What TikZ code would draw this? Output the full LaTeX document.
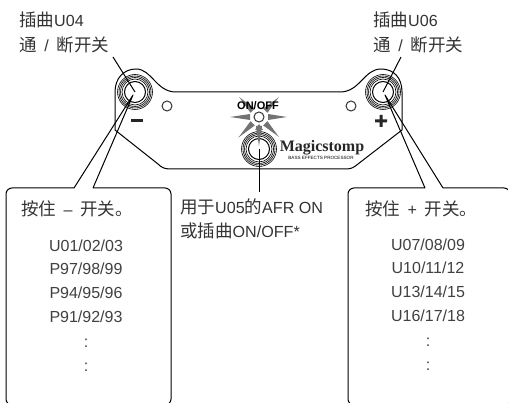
\documentclass[tikz,border=0pt]{standalone}
\usepackage{fontspec}
\usetikzlibrary{calc}
\setmainfont{Liberation Sans}
\newfontfamily\cjk{Noto Sans CJK SC}
\newfontfamily\lat[Scale=0.92]{Liberation Sans}
\newfontfamily\logofont{Liberation Serif}

\tikzset{
  body/.style={draw=black, line width=1pt, line join=round},
  lead/.style={draw=black, line width=1pt},
  ring/.style={draw=black, line width=.6pt, fill=none},
  led/.style={circle, draw=black!80, line width=1pt, minimum size=10pt, inner sep=0pt},
  label/.style={anchor=west, inner sep=0pt, text=black!80, font=\cjk\fontsize{17.5}{20}\selectfont},
  prog/.style={inner sep=0pt, text=black!75, font=\fontsize{16}{18}\selectfont},
  ray/.style={fill=black!55, draw=none},
}

\begin{document}
\begin{tikzpicture}[x=1pt, y=-1pt]
        \useasboundingbox (0,0) rectangle (508,403);
        \clip (0,0) rectangle (508,403);
        % pedal outline
        \draw[body] (170,169) -- (346,169)
          .. controls (352,169) and (354,167) .. (358,164) -- (402,130) -- (402,92)
          .. controls (402,78) and (394,69) .. (381,69)
          .. controls (364,69) and (360,92) .. (340,92) -- (176,92)
          .. controls (156,92) and (152,69) .. (136,69)
          .. controls (124,69) and (115,78) .. (115,92) -- (115,130)
          -- (158,164) .. controls (161,167) and (164,169) .. (170,169) -- cycle;
        % footswitches
        \coordinate (swL) at (135,92);
        \coordinate (swR) at (383,92);
        \coordinate (swC) at (259,149);
        \foreach \sw in {swL,swR,swC} {
          \fill[white] (\sw) circle (18);
          \draw[ring] (\sw) circle (17.5) (\sw) circle (16) (\sw) circle (14.5) (\sw) circle (13);
          \draw[ring, line width=1pt] (\sw) circle (10.5);
        }
        % lamps
        \node[led] (ledL) at (167,106) {};
        \node[led] (ledR) at (351,106) {};
        \node[led] (ledC) at (259,117) {};
        % rays
        \foreach \ang/\len in {0/28,45/28,135/28,180/29,225/29,270/29,315/28} {
          \fill[ray, rotate around={\ang:(ledC)}] ($(ledC)+(9,-3)$) -- ($(ledC)+(\len,0)$) -- ($(ledC)+(9,3)$) -- cycle;
        }
        \fill[ray] (255,130) -- (259,124) -- (263,130) -- cycle;
        % signs
        \node[inner sep=0pt, font=\bfseries\fontsize{11}{11}\selectfont] (onoff) at (258,105.5) {ON/OFF};
        \fill[black!85] (131,119) rectangle (143,122);
        \fill[black!85] (375,119.5) rectangle (387,122.5) (379.5,115) rectangle (382.5,127);
        \node[inner sep=0pt, text=black!85, font=\logofont\bfseries\fontsize{16}{16}\selectfont] (logo) at (322,147.5) {Magicstomp};
        \node[inner sep=0pt, font=\fontsize{4.6}{5}\selectfont] (logosub) at (321,158) {BASS EFFECTS PROCESSOR};
        % top labels
        \node[label] (labL) at (19,20) {插曲{\lat U04}};
        \node[label] (labLb) at (19,45) {通\hspace{7.7pt}{\lat /}\hspace{7.7pt}断开关};
        \node[label] (labR) at (373,20) {插曲{\lat U06}};
        \node[label] (labRb) at (373,45) {通\hspace{7.7pt}{\lat /}\hspace{7.7pt}断开关};
        \coordinate (leadL) at (113,57);
        \coordinate (leadR) at (401,57);
        \draw[lead] (leadL) -- (swL);
        \draw[lead] (leadR) -- (swR);
        % left box
        \coordinate (tipL) at (133,95);
        \draw[body, rounded corners=6pt] (74,188) -- (6,188) -- (6,405) -- (171,405) -- (171,188) -- (93,188);
        \draw[body] (74,188) -- (tipL) -- (93,188);
        % right box
        \coordinate (tipR) at (385,95);
        \draw[body, rounded corners=6pt] (425,188) -- (348,188) -- (348,405) -- (510,405) -- (510,188) -- (443,188);
        \draw[body] (425,188) -- (tipR) -- (443,188);
        % middle label
        \coordinate (leadC) at (259,192);
        \draw[lead] (swC) -- (leadC);
        \node[label] (labC) at (180,207) {用于{\lat U05}的{\lat AFR ON}};
        \node[label] (labCb) at (180,231) {或插曲{\lat ON/OFF*}};
        % left list
        \node[label] (headL) at (21,209) {按住\hspace{7.5pt}{\lat –}\hspace{7.5pt}开关。};
        \node[prog] (progLa) at (86,246) {U01/02/03};
        \node[prog] (progLb) at (86,269) {P97/98/99};
        \node[prog] (progLc) at (86,293) {P94/95/96};
        \node[prog] (progLd) at (86,317) {P91/92/93};
        \node[prog] (progLe) at (86,343) {:};
        \node[prog] (progLf) at (86,367) {:};
        % right list
        \node[label] (headR) at (365,209) {按住\hspace{7.5pt}{\lat +}\hspace{7.5pt}开关。};
        \node[prog] (progRa) at (428,245) {U07/08/09};
        \node[prog] (progRb) at (428,268) {U10/11/12};
        \node[prog] (progRc) at (428,292) {U13/14/15};
        \node[prog] (progRd) at (428,316) {U16/17/18};
        \node[prog] (progRe) at (428,342) {:};
        \node[prog] (progRf) at (428,366) {:};
      \end{tikzpicture}
\end{document}
